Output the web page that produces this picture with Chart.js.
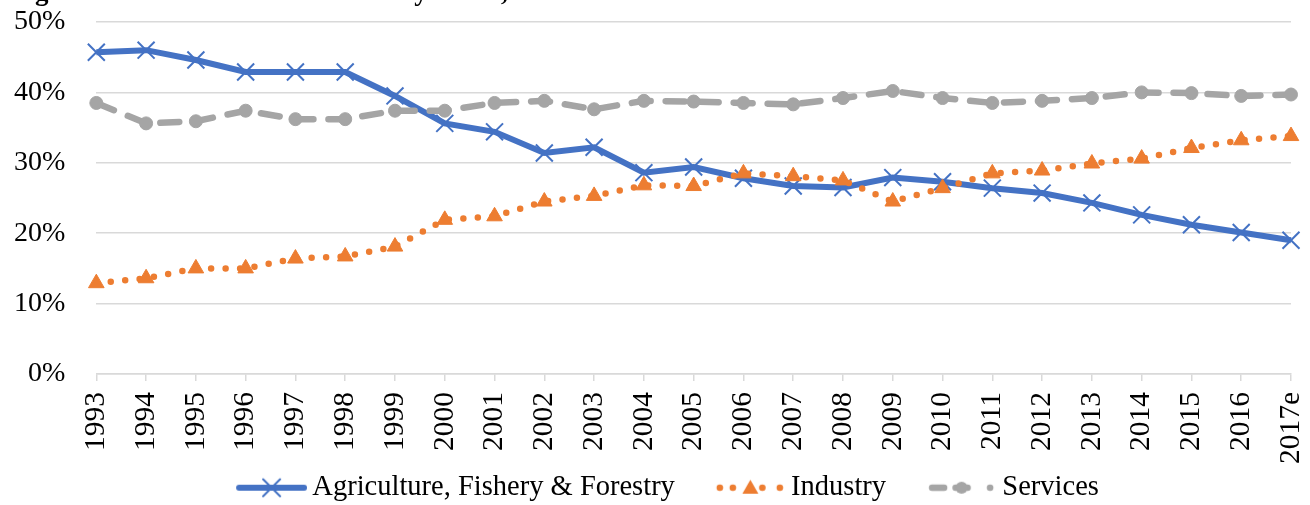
<!DOCTYPE html>
<html><head><meta charset="utf-8">
<script src="https://cdn.jsdelivr.net/npm/chart.js@4.4.1/dist/chart.umd.min.js"></script>
<style>
html,body{margin:0;padding:0;background:#fff;overflow:hidden;}
#wrap{position:relative;width:1310px;height:505px;overflow:hidden;}
#title{position:absolute;left:11px;top:-22px;font:bold 27px "Liberation Serif";line-height:27px;white-space:nowrap;color:#000;}
canvas{display:block;}
</style></head><body>
<div id="wrap"><canvas id="c" width="1310" height="505"></canvas><div id="title">Figure 1: Cambodia's GDP share by sector, 1993-2017</div></div>
<script>
const years = ['1993','1994','1995','1996','1997','1998','1999','2000','2001','2002','2003','2004','2005','2006','2007','2008','2009','2010','2011','2012','2013','2014','2015','2016','2017e'];
const agriculture = [45.7,46.0,44.6,42.9,42.9,42.9,39.5,35.6,34.4,31.4,32.2,28.6,29.4,27.8,26.7,26.5,27.9,27.3,26.4,25.7,24.3,22.6,21.2,20.1,19.0];
const industry = [12.9,13.6,15.0,15.0,16.4,16.7,18.1,21.9,22.4,24.5,25.3,26.8,26.7,28.5,28.1,27.5,24.5,26.4,28.5,28.9,29.9,30.6,32.1,33.2,33.8];
const services = [38.5,35.6,35.9,37.4,36.2,36.2,37.4,37.4,38.5,38.8,37.6,38.8,38.7,38.5,38.3,39.2,40.2,39.2,38.5,38.8,39.2,40.0,39.9,39.5,39.7];
const seriesNames = ['Agriculture, Fishery & Forestry','Industry','Services'];
const yMin = 0, yMax = 50, yStep = 10;

const BLUE='#4472C4', ORANGE='#ED7D31', GRAY='#A5A5A5', GRID='#D9D9D9';
const FONT='"Liberation Serif", "Times New Roman", serif';

function legendIcon(kind){
  const c=document.createElement('canvas');
  c.width=110; c.height=30;
  const g=c.getContext('2d');
  const x0=42, x1=107, y=15, cx=(x0+x1)/2;
  g.lineCap='round';
  if(kind===0){
    g.strokeStyle=BLUE; g.lineWidth=6;
    g.beginPath(); g.moveTo(x0,y); g.lineTo(x1,y); g.stroke();
    g.lineWidth=2; const d=8.5;
    g.beginPath(); g.moveTo(cx-d,y-d); g.lineTo(cx+d,y+d); g.moveTo(cx+d,y-d); g.lineTo(cx-d,y+d); g.stroke();
  } else if(kind===1){
    g.fillStyle=ORANGE;
    [x0+2,x0+15,cx+12,x1-3].forEach(px=>{g.beginPath(); g.arc(px,y,3.3,0,Math.PI*2); g.fill();});
    g.beginPath(); g.moveTo(cx,y-8); g.lineTo(cx+8,y+6); g.lineTo(cx-8,y+6); g.closePath(); g.fill();
  } else {
    g.strokeStyle=GRAY; g.lineWidth=6.5;
    g.beginPath(); g.moveTo(x0+3,y); g.lineTo(x0+15,y); g.stroke();
    g.beginPath(); g.moveTo(cx-6,y); g.lineTo(cx+6,y); g.stroke();
    g.fillStyle=GRAY; g.beginPath(); g.arc(cx,y,6,0,Math.PI*2); g.fill();
    g.beginPath(); g.arc(x1-4,y,3.3,0,Math.PI*2); g.fill();
  }
  return c;
}
const icons=[legendIcon(0),legendIcon(1),legendIcon(2)];

new Chart(document.getElementById('c'),{
  type:'line',
  data:{
    labels:years,
    datasets:[
      {label:seriesNames[0],data:agriculture,borderColor:BLUE,backgroundColor:BLUE,borderWidth:6,
       pointStyle:'crossRot',pointRadius:12,pointBorderWidth:2,pointBorderColor:BLUE,tension:0,order:3,clip:false},
      {label:seriesNames[1],data:industry,borderColor:ORANGE,backgroundColor:ORANGE,borderWidth:6.5,
       borderDash:[0,14.5],borderCapStyle:'round',pointStyle:'triangle',pointRadius:9,pointBorderWidth:1,
       pointBorderColor:ORANGE,pointBackgroundColor:ORANGE,tension:0,order:2,clip:false},
      {label:seriesNames[2],data:services,borderColor:GRAY,backgroundColor:GRAY,borderWidth:6.5,
       borderDash:[19,15],borderCapStyle:'round',pointStyle:'circle',pointRadius:6.5,pointBorderWidth:1,
       pointBorderColor:GRAY,pointBackgroundColor:GRAY,tension:0,order:1,clip:false}
    ]
  },
  options:{
    responsive:false,animation:false,
    layout:{autoPadding:false,padding:{left:14,right:19,top:22,bottom:-7}},
    plugins:{
      tooltip:{enabled:false},
      legend:{
        position:'bottom',
        labels:{
          usePointStyle:true,pointStyleWidth:92,padding:10,color:'#000',
          font:{family:FONT,size:28.5},
          generateLabels:(chart)=>chart.data.datasets.map((ds,i)=>({
            text:ds.label,pointStyle:icons[i],fillStyle:ds.borderColor,strokeStyle:ds.borderColor,
            lineWidth:0,hidden:false,datasetIndex:i,fontColor:'#000'
          }))
        }
      }
    },
    scales:{
      x:{
        type:'category',offset:false,
        grid:{display:true,drawOnChartArea:false,drawTicks:true,tickLength:7,color:GRID,lineWidth:1.5},
        border:{display:true,color:GRID,width:1.5},
        ticks:{autoSkip:false,maxRotation:90,minRotation:90,padding:11,color:'#000',font:{family:FONT,size:29.5}},
        afterFit:(s)=>{s.paddingLeft=0;s.paddingRight=0;s.height-=11.6;}
      },
      y:{
        min:yMin,max:yMax,
        grid:{color:GRID,lineWidth:1.5,drawTicks:false},
        border:{display:false},
        ticks:{stepSize:yStep,padding:31,color:'#000',font:{family:FONT,size:28},callback:(v)=>v+'%'},
        afterFit:(s)=>{s.width-=31;s.paddingTop=0;s.paddingBottom=0;}
      }
    }
  }
});
</script>
</body></html>
